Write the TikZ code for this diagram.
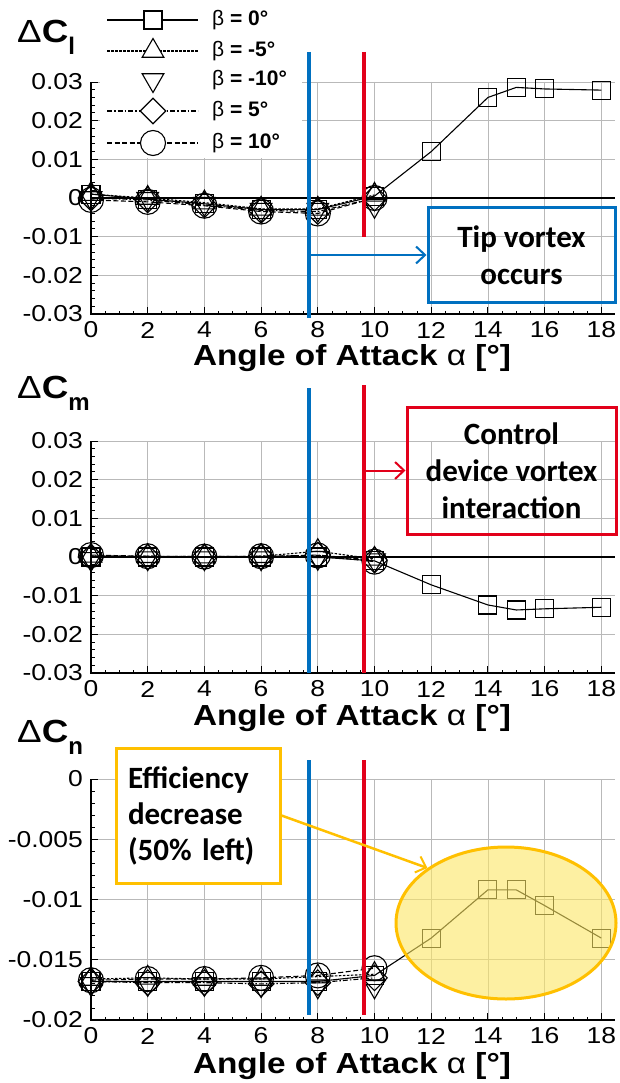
\documentclass[tikz,border=0pt]{standalone}
\usepackage{fontspec}
\usepackage{graphicx}
\setmainfont{Liberation Sans}
\newfontfamily\calibri{Carlito}
\usetikzlibrary{shapes.geometric,arrows.meta}
\definecolor{vblue}{RGB}{0,112,192}
\definecolor{vred}{RGB}{226,0,26}
\definecolor{vyel}{RGB}{255,192,0}
\definecolor{vfill}{RGB}{253,231,100}
\definecolor{gridc}{RGB}{185,185,185}
\newcommand\wide[1]{\scalebox{1.15}[1]{#1}}
\newcommand\plotframe[3]{%
 \pgfmathsetmacro\pfdy{(#2-#1)/#3}%
 \pgfmathtruncatemacro\pfnm{5*#3-1}%
 \foreach \i in {1,...,9} \draw[gridl] ({91+56.7*\i},#1) -- ({91+56.7*\i},#2);
 \foreach \j in {0,...,#3} \draw[gridl] (91,{#1+\pfdy*\j}) -- (615,{#1+\pfdy*\j});
 \foreach \i in {1,...,36} \draw[tickl] ({91+14.175*\i},#2) -- ++(0,-3.5);
 \foreach \i in {1,...,9} \draw[tickl] ({91+56.7*\i},#2) -- ++(0,-7);
 \foreach \j in {1,...,\pfnm} \draw[tickl] (91,{#1+\pfdy*\j/5}) -- ++(3.5,0);
 \foreach \j in {0,...,#3} \draw[tickl] (91,{#1+\pfdy*\j}) -- ++(7,0);
 \draw[axisl] (91,#1) -- (91,#2) -- (615,#2);
 \foreach \i [evaluate=\i as \lab using int(2*\i)] in {0,...,9}
   \node[tlab] (xl-#1-\i) at ({91+56.7*\i},{#2+16}) {\wide{\lab}};
}
\begin{document}
\begin{tikzpicture}[x=1pt,y=-1pt,
  gridl/.style={draw=gridc,line width=0.8pt},
  tickl/.style={draw=black,line width=0.9pt},
  axisl/.style={draw=black,line width=1.6pt},
  tlab/.style={font=\fontsize{23}{23}\selectfont,inner sep=0pt},
  ylab/.style={tlab,anchor=east},
  legt/.style={font=\fontsize{21}{21}\selectfont,inner sep=0pt,anchor=west},
  ttl/.style={font=\fontsize{29}{29}\selectfont\bfseries,inner sep=0pt},
  clab/.style={inner sep=0pt,anchor=base west},
  l0/.style={draw=black,line width=1.1pt},
  l5m/.style={draw=black,line width=1.1pt,dash pattern=on 2.5pt off 1.5pt},
  l5/.style={draw=black,line width=1.1pt,dash pattern=on 5pt off 2pt on 1.5pt off 2pt},
  l10/.style={draw=black,line width=1.1pt,dash pattern=on 5pt off 2.5pt},
  mk/.style={draw=black,line width=1.1pt,inner sep=0pt},
  msq/.style={mk,rectangle,minimum size=18pt},
  mtri/.style={mk,regular polygon,regular polygon sides=3,minimum size=25pt},
  mtrid/.style={mtri,shape border rotate=180},
  mdia/.style={mk,diamond,minimum width=26pt,minimum height=26pt},
  mcir/.style={mk,circle,minimum size=25pt},
  cbox/.style={line width=3pt,align=center,font=\calibri\bfseries\fontsize{31}{37}\selectfont,inner sep=0pt},
  carr/.style={line width=2pt,-{Straight Barb[length=9pt,width=17pt,line width=2pt]}},
  vline/.style={line width=3.5pt}
]
\useasboundingbox (0,0) rectangle (620,1083);
\fill[white] (0,0) rectangle (620,1083);

% ================= Plot 1 : Delta C_l =================
\plotframe{82}{314}{6}
\foreach \j/\t in {0/0.03,1/0.02,2/0.01,3/0,4/-0.01,5/-0.02,6/-0.03}
  \node[ylab] (yl1-\j) at (83,{82+38.667*\j}) {\wide{\t}};
\node[clab] (cl) at (17,43) {\fontsize{32}{32}\selectfont\wide{Δ\textbf{C}}\raisebox{-12pt}{\fontsize{24}{24}\selectfont\bfseries l}};
\node[ttl] (t1) at (352,358) {\wide{Angle of Attack {\mdseries α} [°]}};

\begin{scope}[shift={(91,198)},xscale=28.35,yscale=-3.867]
  \draw[l0] (0,0) -- (18.5,0);
  \draw[l0] plot coordinates {(0,1) (2,-0.3) (4,-1.5) (6,-3) (8,-3) (10,0.5) (12,12) (14,26) (15,28.6) (16,28.2) (18,27.9)};
  \draw[l5m] plot coordinates {(0,1) (2,0) (4,-1.2) (6,-2.8) (8,-2.8) (10,0.8)};
  \draw[l5] plot coordinates {(0,0) (2,-0.5) (4,-1.8) (6,-3.2) (8,-3.5) (10,0)};
  \draw[l10] plot coordinates {(0,-0.5) (2,-1) (4,-2) (6,-3.5) (8,-4) (10,0)};
  \foreach \a/\v in {0/1,2/-0.3,4/-1.5,6/-3,8/-3,10/0.5,12/12,14/26,15/28.6,16/28.2,18/27.9}
    \node[msq] (p1s-\a) at (\a,\v) {};
  \foreach \a/\v in {0/1,2/0,4/-1.2,6/-2.8,8/-2.8,10/0.8}
    \node[mtri] (p1t-\a) at (\a,\v) {};
  \foreach \a/\v in {0/0,2/-0.2,4/-1.5,6/-3,8/-3,10/-2}
    \node[mtrid] (p1d-\a) at (\a,\v) {};
  \foreach \a/\v in {0/0,2/-0.5,4/-1.8,6/-3.2,8/-3.5,10/0}
    \node[mdia] (p1m-\a) at (\a,\v) {};
  \foreach \a/\v in {0/-0.5,2/-1,4/-2,6/-3.5,8/-4,10/0}
    \node[mcir] (p1c-\a) at (\a,\v) {};
\end{scope}

% legend
\fill[white] (100,0) rectangle (302,158);
\draw[l0] (107,20) -- (198,20);
\node[msq,fill=white] (lg0) at (153,20) {};
\draw[l5m] (107,51) -- (198,51);
\node[mtri,fill=white] (lg1) at (153,51) {};
\node[mtrid,fill=white] (lg2) at (153,80) {};
\draw[l5] (107,111) -- (198,111);
\node[mdia,fill=white] (lg3) at (153,111) {};
\draw[l10] (107,143) -- (198,143);
\node[mcir,fill=white] (lg4) at (153,143) {};
\node[legt] (lt0) at (212,20) {β \textbf{= 0°}};
\node[legt] (lt1) at (212,51) {β \textbf{= -5°}};
\node[legt] (lt2) at (212,80) {β \textbf{= -10°}};
\node[legt] (lt3) at (212,111) {β \textbf{= 5°}};
\node[legt] (lt4) at (212,143) {β \textbf{= 10°}};

\draw[vline,vblue] (309,52) -- (309,318);
\draw[vline,vred] (364,52) -- (364,237);
\node[cbox,draw=vblue,minimum width=187pt,minimum height=94pt] (tip) at (521.5,255) {Tip vortex\\occurs};
\coordinate (b1) at (309,255);
\draw[carr,vblue] (b1) -- (tip.west);

% ================= Plot 2 : Delta C_m =================
\plotframe{441}{673}{6}
\foreach \j/\t in {0/0.03,1/0.02,2/0.01,3/0,4/-0.01,5/-0.02,6/-0.03}
  \node[ylab] (yl2-\j) at (83,{441+38.667*\j}) {\wide{\t}};
\node[clab] (cm) at (17,398) {\fontsize{32}{32}\selectfont\wide{Δ\textbf{C}}\raisebox{-12pt}{\fontsize{24}{24}\selectfont\bfseries m}};
\node[ttl] (t2) at (352,718) {\wide{Angle of Attack {\mdseries α} [°]}};

\begin{scope}[shift={(91,557)},xscale=28.35,yscale=-3.867]
  \draw[l0] (0,0) -- (18.5,0);
  \draw[l0] plot coordinates {(0,0) (2,0) (4,0) (6,0) (8,0) (10,-1) (12,-7.2) (14,-12.4) (15,-13.7) (16,-13.4) (18,-13)};
  \draw[l5m] plot coordinates {(0,0.3) (2,0.2) (4,0.1) (6,0.2) (8,1.5) (10,-0.5)};
  \draw[l5] plot coordinates {(0,0) (2,0) (4,0) (6,0.1) (8,0.5) (10,-0.8)};
  \draw[l10] plot coordinates {(0,0.5) (2,0.2) (4,0.1) (6,0.2) (8,0.4) (10,-1.2)};
  \foreach \a/\v in {0/0,2/0,4/0,6/0,8/0,10/-1,12/-7.2,14/-12.4,15/-13.7,16/-13.4,18/-13}
    \node[msq] (p2s-\a) at (\a,\v) {};
  \foreach \a/\v in {0/0.3,2/0.2,4/0.1,6/0.2,8/1.5,10/-0.5}
    \node[mtri] (p2t-\a) at (\a,\v) {};
  \foreach \a/\v in {0/-0.5,2/-0.3,4/-0.3,6/-0.3,8/-0.2,10/-0.8}
    \node[mtrid] (p2d-\a) at (\a,\v) {};
  \foreach \a/\v in {0/0,2/0,4/0,6/0.1,8/0.5,10/-0.8}
    \node[mdia] (p2m-\a) at (\a,\v) {};
  \foreach \a/\v in {0/0.5,2/0.2,4/0.1,6/0.2,8/0.4,10/-1.2}
    \node[mcir] (p2c-\a) at (\a,\v) {};
\end{scope}

\draw[vline,vblue] (309,388) -- (309,673);
\draw[vline,vred] (364,385) -- (364,673);
\node[cbox,draw=vred,minimum width=209pt,minimum height=127pt] (ctl) at (511.5,470.5) {Control\\device vortex\\interaction};
\coordinate (r2) at (364,470.5);
\draw[carr,vred] (r2) -- (ctl.west);

% ================= Plot 3 : Delta C_n =================
\plotframe{779}{1020}{4}
\foreach \j/\t in {0/0,1/-0.005,2/-0.01,3/-0.015,4/-0.02}
  \node[ylab] (yl3-\j) at (83,{779+60.25*\j}) {\wide{\t}};
\node[clab] (cn) at (17,742) {\fontsize{32}{32}\selectfont\wide{Δ\textbf{C}}\raisebox{-12pt}{\fontsize{24}{24}\selectfont\bfseries n}};
\node[ttl] (t3) at (352,1066) {\wide{Angle of Attack {\mdseries α} [°]}};

\begin{scope}[shift={(91,779)},xscale=28.35,yscale=-12.05]
  \draw[l0] plot coordinates {(0,-16.8) (2,-16.8) (4,-16.8) (6,-16.8) (8,-16.8) (10,-16.3) (12,-13.2) (14,-9.2) (15,-9.2) (16,-10.5) (18,-13.2)};
  \draw[l5m] plot coordinates {(0,-16.6) (2,-16.5) (4,-16.6) (6,-16.6) (8,-16.4) (10,-16.2)};
  \draw[l5] plot coordinates {(0,-16.8) (2,-16.9) (4,-16.9) (6,-17.0) (8,-16.9) (10,-16.5)};
  \draw[l10] plot coordinates {(0,-16.7) (2,-16.6) (4,-16.6) (6,-16.5) (8,-16.3) (10,-15.7)};
  \foreach \a/\v in {0/-16.8,2/-16.8,4/-16.8,6/-16.8,8/-16.8,10/-16.3,12/-13.2,14/-9.2,15/-9.2,16/-10.5,18/-13.2}
    \node[msq] (p3s-\a) at (\a,\v) {};
  \foreach \a/\v in {0/-16.6,2/-16.5,4/-16.6,6/-16.6,8/-16.4,10/-16.2}
    \node[mtri] (p3t-\a) at (\a,\v) {};
  \foreach \a/\v in {0/-17.0,2/-17.0,4/-17.0,6/-17.1,8/-17.2,10/-17.2}
    \node[mtrid] (p3d-\a) at (\a,\v) {};
  \foreach \a/\v in {0/-16.8,2/-16.9,4/-16.9,6/-17.0,8/-16.9,10/-16.5}
    \node[mdia] (p3m-\a) at (\a,\v) {};
  \foreach \a/\v in {0/-16.7,2/-16.6,4/-16.6,6/-16.5,8/-16.3,10/-15.7}
    \node[mcir] (p3c-\a) at (\a,\v) {};
\end{scope}

\draw[vline,vblue] (309,760) -- (309,1015);
\draw[vline,vred] (364,760) -- (364,1015);
\node[ellipse,draw=vyel,line width=3pt,fill=vfill,fill opacity=0.6,minimum width=220pt,minimum height=152pt] (ell) at (506,923) {};
\node[draw=vyel,fill=white,line width=3pt,text width=140pt,inner xsep=12pt,inner ysep=0pt,minimum height=135pt,align=left,font=\calibri\bfseries\fontsize{31}{36}\selectfont] (eff) at (198,815.5) {Efficiency\\decrease\\(50\% left)};
\draw[carr,vyel,line width=2.5pt] (eff.east) -- (ell.145);
\end{tikzpicture}
\end{document}
